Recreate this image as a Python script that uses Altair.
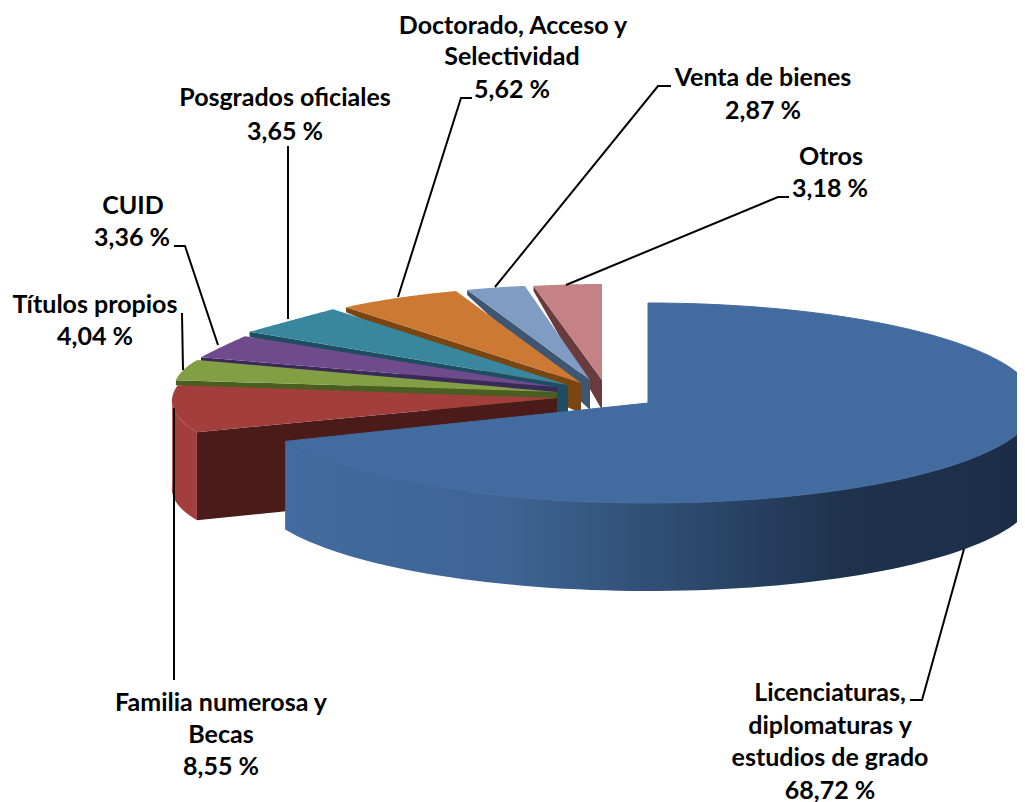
import math
import altair as alt
import pandas as pd

# --- chart values (clockwise from 12 o'clock) ---
names = ["Licenciaturas, diplomaturas y estudios de grado", "Familia numerosa y Becas",
         "Títulos propios", "CUID", "Posgrados oficiales",
         "Doctorado, Acceso y Selectividad", "Venta de bienes", "Otros"]
shares = [68.72, 8.55, 4.04, 3.36, 3.65, 5.62, 2.87, 3.18]
top_colors = ["#426B9F", "#A23E3C", "#82A043", "#6F4A8C", "#39879F", "#CC7A33", "#809BC4", "#C58284"]
wall_colors = ["#426B9F", "#4A1B18", "#4B5E22", "#3B2A58", "#1D4D60", "#7A4510", "#3F5673", "#6A3B3D"]

label_lines = [
    ["Licenciaturas,", "diplomaturas y", "estudios de grado", "68,72 %"],
    ["Familia numerosa y", "Becas", "8,55 %"],
    ["Títulos propios", "4,04 %"],
    ["CUID", "3,36 %"],
    ["Posgrados oficiales", "3,65 %"],
    ["Doctorado, Acceso y", "Selectividad", "5,62 %"],
    ["Venta de bienes", "2,87 %"],
    ["Otros", "3,18 %"],
]

# --- layout (page pixels) ---
# slice: apex x, apex y, radius-x start/end, radius-y start/end
geom = [
    (648, 403, 385, 393, 100, 100),
    (557, 398, 390, 383, 89, 90),
    (557, 392, 385, 390, 83, 83),
    (557, 387, 386, 380, 77, 89),
    (568, 385, 388, 351, 93, 102),
    (581, 383, 351, 337, 102, 99),
    (590, 380, 331, 328, 97, 96),
    (602, 380, 345, 345, 96, 96),
]
label_pos = [
    [(830, 693), (830, 726), (830, 758), (830, 791)],
    [(221, 703), (221, 735), (221, 767)],
    [(95, 305), (95, 337)],
    [(133, 206), (132, 238)],
    [(285, 98), (285, 132)],
    [(513, 26), (512, 57), (512, 90)],
    [(763, 78), (763, 111)],
    [(831, 157), (830, 189)],
]
leaders = [
    [(964, 549), (922, 700), (910, 700)],
    [(174, 408), (174, 680)],
    [(182, 313), (183, 370)],
    [(174, 246), (185, 246), (218, 345)],
    [(288, 146), (288, 319)],
    [(472, 98), (461, 98), (398, 297)],
    [(671, 86), (658, 86), (495, 287)],
    [(789, 197), (778, 197), (566, 285)],
]
DEPTH = 88
W, H = 1009, 794
xs = alt.Scale(domain=[8, 8 + W], nice=False, zero=False)
ys = alt.Scale(domain=[8 + H, 8], nice=False, zero=False)
X = alt.X("x:Q", scale=xs, axis=None)
Y = alt.Y("y:Q", scale=ys, axis=None)


def rim(i, t0, t1, n=80):
    """Points on the elliptical rim of slice i between angles t0 and t1."""
    cx, cy, a0, a1, b0, b1 = geom[i]
    s = bounds[i]
    e = bounds[i + 1]
    pts = []
    for k in range(n + 1):
        t = t0 + (t1 - t0) * k / n
        f = (t - s) / (e - s)
        a = a0 + (a1 - a0) * f
        b = b0 + (b1 - b0) * f
        pts.append((cx + a * math.sin(math.radians(t)), cy - b * math.cos(math.radians(t))))
    return pts


def poly(pts, fill, edge=None):
    pts = list(pts) + [pts[0]]
    df = pd.DataFrame({"x": [p[0] for p in pts], "y": [p[1] for p in pts], "i": range(len(pts))})
    if edge:
        mark = alt.Chart(df).mark_line(fill=fill, stroke=edge, strokeWidth=1, clip=True)
    else:
        mark = alt.Chart(df).mark_line(fill=fill, strokeWidth=0, clip=True)
    return mark.encode(x=X, y=Y, order=alt.Order("i:Q"))


total = sum(shares)
bounds = [0.0]
for v in shares:
    bounds.append(bounds[-1] + v / total * 360)

layers = []
# back to front: last slice first
for i in range(len(shares) - 1, 0, -1):
    cx, cy = geom[i][:2]
    arc = rim(i, bounds[i], bounds[i + 1])
    ox, oy = arc[0]
    if i == 1:
        layers.append(poly([(ox, oy), (cx, cy), (cx, cy + 86), (ox, oy + DEPTH)], wall_colors[i]))
        low = rim(i, bounds[i], 270)
        layers.append(poly(low + [(x, y + DEPTH) for x, y in reversed(low)], "#A23E3C"))
    else:
        layers.append(poly([(ox, oy), (cx, cy), (cx, cy + 30), (ox, oy + 5)], wall_colors[i]))
    layers.append(poly([(cx, cy)] + arc, top_colors[i]))

# main slice: curved front wall with shading, then the top
front = rim(0, 90, bounds[1])[::-1]
wall_fill = alt.Gradient(
    gradient="linear", x1=0, y1=0, x2=1, y2=0,
    stops=[
        alt.GradientStop(offset=0, color="#426B9F"),
        alt.GradientStop(offset=0.3, color="#3D6493"),
        alt.GradientStop(offset=0.52, color="#2F4B70"),
        alt.GradientStop(offset=0.75, color="#1E324C"),
        alt.GradientStop(offset=1, color="#1C2E46"),
    ],
)
layers.append(poly(front + [(x, y + DEPTH) for x, y in reversed(front)], wall_fill))
cx0, cy0 = geom[0][:2]
layers.append(poly([(cx0, cy0)] + rim(0, 0, bounds[1], 240), top_colors[0], edge=top_colors[0]))

# leader lines
for j, seg in enumerate(leaders):
    df = pd.DataFrame({"x": [p[0] for p in seg], "y": [p[1] for p in seg], "i": range(len(seg))})
    layers.append(alt.Chart(df).mark_line(color="#000000", strokeWidth=2).encode(
        x=X, y=Y, order=alt.Order("i:Q")))

# labels
rows = []
for lines, pos in zip(label_lines, label_pos):
    for txt, (x, y) in zip(lines, pos):
        rows.append({"x": x, "y": y, "t": txt})
layers.append(alt.Chart(pd.DataFrame(rows)).mark_text(
    font="Lato", fontWeight="bold", fontSize=25, color="#000000",
    align="center", baseline="middle").encode(x=X, y=Y, text="t:N"))

chart = alt.layer(*layers).properties(
    width=W, height=H, padding=0, background="#FFFFFF",
    autosize=alt.AutoSizeParams(type="none"),
).configure_view(stroke=None)

chart.save("out.html", embed_options={"renderer": "svg", "actions": False})
